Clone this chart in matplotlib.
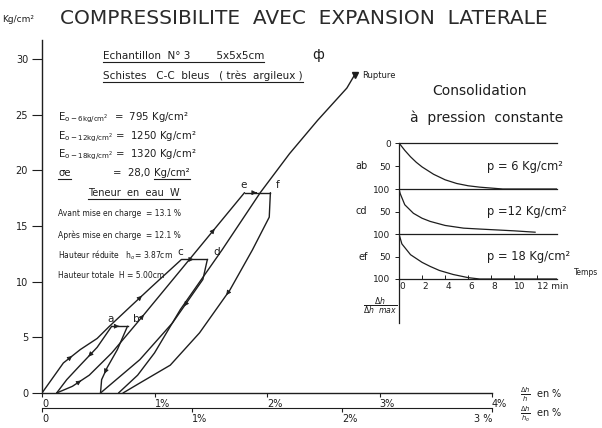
import numpy as np
import matplotlib.pyplot as plt
from matplotlib.lines import Line2D

W, H = 602, 428

# ---- main diagram: strain (% of h) vs stress (kg/cm2) ----
load_o_x = [0, 0.19, 0.34, 0.49, 0.60, 0.80, 0.97, 1.24]
load_o_y = [0, 2.7, 3.9, 4.9, 6.0, 7.9, 9.5, 12.0]

lower_a_x = [0.62, 0.49, 0.34, 0.22, 0.13]
lower_a_y = [6.0, 4.1, 2.5, 1.2, 0]

steep_b_x = [0.76, 0.67, 0.58, 0.53, 0.52]
steep_b_y = [6.0, 3.9, 2.3, 1.2, 0]

reload_e_x = [0.13, 0.27, 0.42, 0.62, 0.87, 1.38, 1.80]
reload_e_y = [0, 0.6, 1.6, 3.6, 6.6, 12.85, 18.0]

unload_d_x = [1.47, 1.43, 1.16, 0.87, 0.52]
unload_d_y = [12.0, 10.2, 6.3, 3.0, 0]

unload_f_x = [2.03, 2.02, 1.87, 1.67, 1.40, 1.14, 0.87, 0.72]
unload_f_y = [18.0, 15.8, 12.85, 9.25, 5.4, 2.5, 0.9, 0]

rupture_x = [0.68, 0.85, 1.00, 1.23, 1.60, 1.94, 2.20, 2.45, 2.71, 2.78]
rupture_y = [0, 1.6, 3.6, 7.5, 12.85, 18.0, 21.5, 24.5, 27.4, 28.6]

# plateaus (consolidation at constant pressure)
plateau_p = [6, 12, 18]
plateau_x0 = [0.62, 1.24, 1.80]
plateau_x1 = [0.76, 1.47, 2.03]
plateau_names = [("a", "b"), ("c", "d"), ("e", "f")]

# ---- consolidation curves: time (min) vs dh/dhmax (%) ----
ab_t = [0, 0.5, 1, 1.5, 2, 3, 4, 5, 6, 7, 8, 9, 13.7]
ab_v = [0, 16, 30, 42, 52, 68, 80, 88, 93, 96, 98, 100, 100]
cd_t = [0, 0.1, 0.5, 1.25, 2, 2.7, 4, 5.6, 7, 8.5, 10, 11.8]
cd_v = [0, 10, 35, 54, 65, 72, 81, 87, 89, 91, 93, 96]
ef_t = [0, 0.25, 1, 2, 2.7, 3.5, 4.7, 6, 7, 13.7]
ef_v = [0, 22, 46, 63, 72, 81, 90, 97, 100, 100]

ink = "#1e1e1e"
plt.rcParams["font.family"] = "DejaVu Sans"


def fx(x):
    return x / W


def fy(y):
    return 1 - y / H


fig = plt.figure(figsize=(W / 100, H / 100), dpi=100)
fig.patch.set_facecolor("white")

# main axes: 0 at px(42, 393), 4% at px 492, 30 at px 59
ax = fig.add_axes([fx(42), fy(393), (492 - 42) / W, (393 - 40) / H])
ax.set_xlim(0, 4)
ax.set_ylim(0, (393 - 40) / 11.13)
ax.patch.set_alpha(0)
for s in ["top", "right"]:
    ax.spines[s].set_visible(False)
for s in ["left", "bottom"]:
    ax.spines[s].set_color(ink)
    ax.spines[s].set_linewidth(1.0)
ax.set_yticks([0, 5, 10, 15, 20, 25, 30])
ax.set_yticklabels(["0", "5", "10", "15", "20", "25", "30"])
ax.set_xticks([0, 1, 2, 3, 4])
ax.set_xticklabels(["0", "1%", "2%", "3%", "4%"], ha="left")
ax.tick_params(axis="y", direction="out", length=7, width=0.8, colors=ink,
               labelsize=7, pad=3)
ax.tick_params(axis="x", direction="out", length=3, width=0.8, colors=ink,
               labelsize=7, pad=1)
for t in ax.get_yticklabels():
    t.set_y(t.get_position()[1])
    t.set_va("center_baseline")

lw = 1.0
curves = [
    (load_o_x, load_o_y), (lower_a_x, lower_a_y), (steep_b_x, steep_b_y),
    (reload_e_x, reload_e_y), (unload_d_x, unload_d_y),
    (unload_f_x, unload_f_y), (rupture_x, rupture_y),
]
for cx, cy in curves:
    ax.plot(cx, cy, color=ink, lw=lw, solid_capstyle="round")


# small arrowheads along the paths
def arrow_on(cx, cy, i, frac=0.5):
    x0, y0 = cx[i], cy[i]
    x1, y1 = cx[i + 1], cy[i + 1]
    xm = x0 + frac * (x1 - x0)
    ym = y0 + frac * (y1 - y0)
    ax.annotate("", xy=(xm + 0.02 * (x1 - x0), ym + 0.02 * (y1 - y0)),
                xytext=(xm, ym),
                arrowprops=dict(arrowstyle="-|>", color=ink, lw=0.6,
                                mutation_scale=7))


for p, x0, x1, (n0, n1) in zip(plateau_p, plateau_x0, plateau_x1, plateau_names):
    ax.plot([x0, x1], [p, p], color=ink, lw=lw)
    arrow_on([x0, x1], [p, p], 0, 0.45)
    ax.text(x0 - 0.01, p + 0.2, n0, fontsize=7.5, color=ink, ha="center",
            va="bottom")
    ax.text(x1 + 0.05, p + 0.2, n1, fontsize=7.5, color=ink, ha="left",
            va="bottom")

ax.plot(rupture_x[-1], rupture_y[-1], marker="v", ms=4, color=ink)
ax.text(rupture_x[-1] + 0.07, rupture_y[-1] - 0.1, "Rupture", fontsize=6,
        color=ink, va="center")

arrow_on(load_o_x, load_o_y, 1)
arrow_on(load_o_x, load_o_y, 5)
arrow_on(lower_a_x, lower_a_y, 1)
arrow_on(steep_b_x, steep_b_y, 2)
arrow_on(reload_e_x, reload_e_y, 1)
arrow_on(reload_e_x, reload_e_y, 4, 0.05)
arrow_on(reload_e_x, reload_e_y, 5, 0.35)
arrow_on(unload_d_x, unload_d_y, 1, 0.6)
arrow_on(unload_f_x, unload_f_y, 3, 0.1)

# second strain scale (% of h0)
ax2 = fig.add_axes([fx(42), fy(408), (492 - 42) / W, 0.0001])
ax2.set_xlim(0, 3)
ax2.set_yticks([])
ax2.patch.set_alpha(0)
for s in ["top", "right", "left"]:
    ax2.spines[s].set_visible(False)
ax2.spines["bottom"].set_color(ink)
ax2.set_xticks([0, 1, 2, 3])
ax2.set_xticklabels(["0", "1%", "2%", "3 %"], ha="left")
ax2.get_xticklabels()[-1].set_ha("right")
ax2.tick_params(axis="x", direction="out", length=3, width=0.8, colors=ink,
                labelsize=7, pad=1)

fig.text(fx(520), fy(395), r"$\frac{\Delta h}{h}$  en %", fontsize=7,
         color=ink, va="center")
fig.text(fx(520), fy(414), r"$\frac{\Delta h}{h_o}$  en %", fontsize=7,
         color=ink, va="center")

# title
fig.text(fx(2), fy(19), "Kg/cm²", fontsize=6.5, color=ink, va="center")
fig.text(fx(60), fy(18), "COMPRESSIBILITE  AVEC  EXPANSION  LATERALE",
         fontsize=14.5, color="#2a2a2a", va="center")

# text block
t_big = dict(fontsize=7.5, color=ink, va="center")
t_mid = dict(fontsize=7.3, color=ink, va="center")
t_sml = dict(fontsize=5.5, color=ink, va="center")
underlined = []
underlined.append(fig.text(fx(103), fy(56),
                           "Echantillon  N° 3        5x5x5cm", **t_big))
fig.text(fx(312), fy(55), "ф", fontsize=10, color=ink, va="center")
underlined.append(fig.text(fx(103), fy(76),
                           "Schistes   C-C  bleus   ( très  argileux )",
                           **t_big))
fig.text(fx(58), fy(118), r"E$_{\rm o-6kg/cm^2}$  =  795 Kg/cm²", **t_mid)
fig.text(fx(58), fy(137), r"E$_{\rm o-12kg/cm^2}$ =  1250 Kg/cm²", **t_mid)
fig.text(fx(58), fy(155), r"E$_{\rm o-18kg/cm^2}$ =  1320 Kg/cm²", **t_mid)
underlined.append(fig.text(fx(58), fy(173), "σe", **t_mid))
fig.text(fx(113), fy(173), "=  28,0", **t_mid)
underlined.append(fig.text(fx(154), fy(173), "Kg/cm²", **t_mid))
underlined.append(fig.text(fx(88), fy(193), "Teneur  en  eau  W",
                           fontsize=7, color=ink, va="center"))
fig.text(fx(58), fy(214), "Avant mise en charge  = 13.1 %", **t_sml)
fig.text(fx(58), fy(235), "Après mise en charge  = 12.1 %", **t_sml)
fig.text(fx(58), fy(255), r"Hauteur réduite   h$_o$= 3.87cm", **t_sml)
fig.text(fx(58), fy(276), "Hauteur totale  H = 5.00cm", **t_sml)

fig.canvas.draw()
rend = fig.canvas.get_renderer()
for t in underlined:
    bb = t.get_window_extent(rend)
    y = bb.y0 - 1.0
    fig.add_artist(Line2D([bb.x0 / W, bb.x1 / W], [y / H, y / H],
                          color=ink, lw=0.8, transform=fig.transFigure))

# ---- consolidation panels ----
fig.text(fx(432), fy(91), "Consolidation", fontsize=10, color=ink, va="center")
fig.text(fx(410), fy(118), "à  pression  constante", fontsize=10, color=ink,
         va="center")

panels = [("ab", ab_t, ab_v, 143, 189, "p = 6 Kg/cm²"),
          ("cd", cd_t, cd_v, 189, 234, "p =12 Kg/cm²"),
          ("ef", ef_t, ef_v, 234, 279, "p = 18 Kg/cm²")]
for k, (name, tt, vv, top, bot, lab) in enumerate(panels):
    pa = fig.add_axes([fx(399), fy(bot), (557 - 399) / W, (bot - top) / H])
    pa.set_xlim(0, 13.7)
    pa.set_ylim(100, 0)
    pa.patch.set_alpha(0)
    pa.spines["right"].set_visible(False)
    pa.spines["top"].set_visible(k == 0)
    for s in ["top", "bottom", "left"]:
        pa.spines[s].set_color(ink)
        pa.spines[s].set_linewidth(0.9)
    pa.plot(tt, vv, color=ink, lw=0.9)
    pa.set_yticks([0, 50, 100] if k == 0 else [50, 100])
    pa.set_yticklabels(["0", "50", "100"] if k == 0 else ["50", "100"])
    pa.tick_params(axis="y", direction="out", length=3, width=0.7, colors=ink,
                   labelsize=6.5, pad=3)
    pa.text(-0.2, 0.5, name, transform=pa.transAxes, fontsize=7, color=ink,
            va="center", ha="right")
    pa.text(0.56, 0.5, lab, transform=pa.transAxes, fontsize=8.3, color=ink,
            va="center", ha="left")
    if k < 2:
        pa.set_xticks([])
    else:
        pa.set_xticks([0, 2, 4, 6, 8, 10, 12])
        pa.set_xticklabels(["0", "2", "4", "6", "8", "10", "12 min"], ha="left")
        pa.tick_params(axis="x", direction="in", length=3, width=0.7, colors=ink,
                       labelsize=6.5, pad=2)
        pa.text(1.11, 0.15, "Temps", transform=pa.transAxes, fontsize=5.5,
                color=ink, va="center")
        pa.plot([0, 0], [0, -(323 - 279) / (bot - top)], transform=pa.transAxes,
                color=ink, lw=0.9, clip_on=False)
        pa.text(-0.01, -0.6, r"$\frac{\Delta h}{\Delta h\ \ max}$",
                transform=pa.transAxes, fontsize=8, color=ink, ha="right",
                va="center")

fig.savefig("out.png", dpi=100)
